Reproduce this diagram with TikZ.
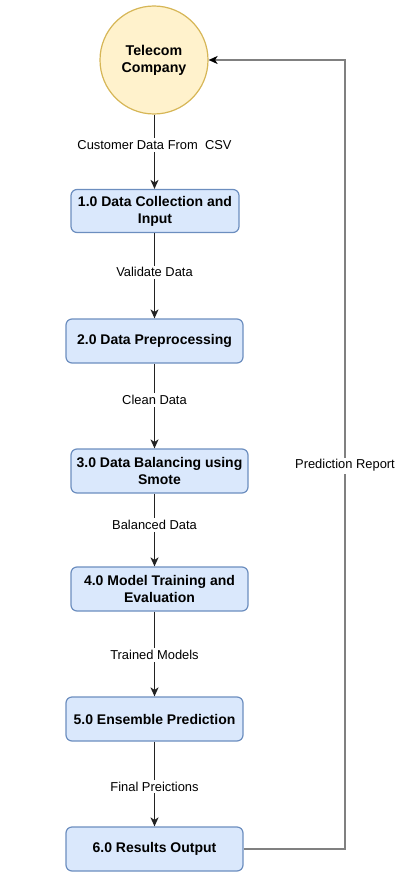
\documentclass[tikz,border=0pt]{standalone}
\usepackage{fontspec}
\setmainfont{Liberation Sans}
\usetikzlibrary{arrows.meta}
\definecolor{boxfill}{HTML}{DAE8FC}
\definecolor{boxline}{HTML}{6C8EBF}
\definecolor{circfill}{HTML}{FFF2CC}
\definecolor{circline}{HTML}{D6B656}
\definecolor{fbline}{HTML}{808080}
\definecolor{arrline}{HTML}{222222}
\begin{document}
\begin{tikzpicture}[x=1pt,y=-1pt,
  stepbox/.style={draw=boxline, fill=boxfill, line width=1.2pt, rounded corners=6pt,
    minimum width=177pt, minimum height=44pt, inner sep=2pt, align=center,
    font=\fontsize{14}{17}\selectfont\bfseries},
  circnode/.style={circle, draw=circline, fill=circfill, line width=1.2pt,
    minimum size=108pt, inner sep=0pt, align=center,
    font=\fontsize{14.2}{17}\selectfont\bfseries},
  arr/.style={draw=arrline, line width=1.3pt, -{Stealth[length=9pt,width=8pt,inset=2.5pt]}},
  fb/.style={draw=fbline, line width=1.4pt, -{Stealth[length=9pt,width=8pt,inset=2.5pt,fill=black,color=black]}},
  lbl/.style={fill=white, inner sep=2pt, font=\fontsize{12.9}{15}\selectfont, text=black}
]
\useasboundingbox (0,0) rectangle (419,888);
\node[circnode] (c) at (154,60) {Telecom\\Company};
\node[stepbox, minimum width=168pt, minimum height=43pt] (b1) at (155,211) {1.0 Data Collection and\\Input};
\node[stepbox] (b2) at (154.5,341) {2.0 Data Preprocessing};
\node[stepbox] (b3) at (159.5,471) {3.0 Data Balancing using\\Smote};
\node[stepbox] (b4) at (159.5,589) {4.0 Model Training and\\Evaluation};
\node[stepbox] (b5) at (154.5,719) {5.0 Ensemble Prediction};
\node[stepbox] (b6) at (154.5,849) {6.0 Results Output};
\coordinate (ax) at (154.5,0);
\coordinate (fbc) at (345,60);

\draw[arr] (c.south -| ax) -- node[lbl, pos=0.41] {Customer Data From\ \ CSV} (b1.north -| ax);
\draw[arr] (b1.south -| ax) -- node[lbl, pos=0.46] {Validate Data} (b2.north -| ax);
\draw[arr] (b2.south -| ax) -- node[lbl, pos=0.43] {Clean Data} (b3.north -| ax);
\draw[arr] (b3.south -| ax) -- node[lbl, pos=0.43] {Balanced Data} (b4.north -| ax);
\draw[arr] (b4.south -| ax) -- node[lbl, pos=0.51] {Trained Models} (b5.north -| ax);
\draw[arr] (b5.south -| ax) -- node[lbl, pos=0.53] {Final Preictions} (b6.north -| ax);
\draw[fb] (b6.east) -| node[lbl, pos=0.743] {Prediction Report} (fbc) -- (c.east);
\end{tikzpicture}
\end{document}
